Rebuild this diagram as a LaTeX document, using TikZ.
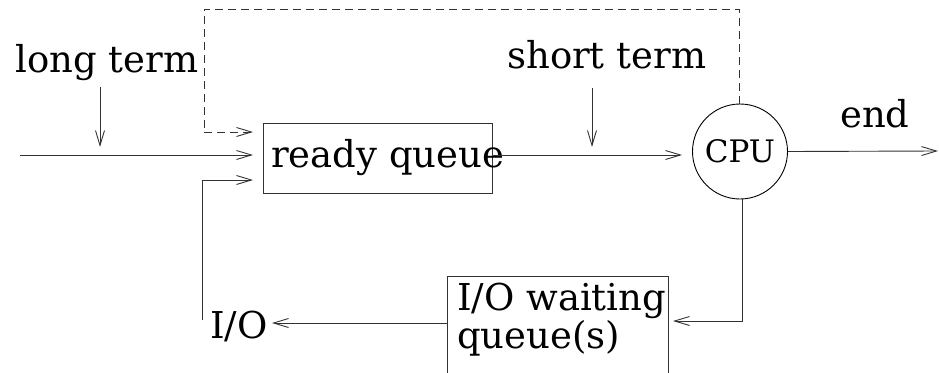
\documentclass[tikz,border=0pt]{standalone}
\usepackage{fontspec}
\setmainfont{DejaVu Serif}
\usetikzlibrary{arrows.meta}
\tikzset{
  conn/.style={line width=0.9pt, draw=black!80},
  arr/.style={conn, -{Straight Barb[length=15pt,width=9pt,line width=0.9pt]}},
  dashline/.style={conn, dash pattern=on 8pt off 5pt},
  lbl/.style={inner sep=0pt, anchor=base west, font=\fontsize{37}{31}\selectfont},
  boxn/.style={draw=black!80, line width=0.9pt, inner sep=0pt},
  cpun/.style={circle, draw=black, line width=0.9pt, minimum size=95pt, inner sep=0pt, font=\fontsize{31}{31}\selectfont}
}
\begin{document}
\begin{tikzpicture}[x=1pt,y=-1pt]
\clip (0,0) rectangle (939,372);
% boxes
\node[boxn, minimum width=229pt, minimum height=70pt] (rq) at (377.5,158) {};
\node[lbl] (rqt) at (271,167) {ready queue};
\node[cpun] (cpu) at (740,151.5) {CPU};
\node[boxn, minimum width=221pt, minimum height=130pt] (io) at (557.5,341) {};
\node[lbl, align=left] (iot) at (457,348) {I/O waiting\\queue(s)};
% labels
\node[lbl] (lt) at (15,72) {long term};
\node[lbl] (st) at (507,68) {short term};
\node[lbl] (endl) at (840,127) {end};
\node[lbl] (iol) at (210,338) {I/O};
% coordinates
\coordinate (in) at (20,155);
\coordinate (rqin) at (253,155);
\coordinate (rqdash) at (253,132);
\coordinate (rqio) at (253,180);
\coordinate (ltA) at (100,87);
\coordinate (ltB) at (100,147);
\coordinate (stA) at (592,88);
\coordinate (stB) at (592,147);
\coordinate (cpuin) at (682,155);
\coordinate (endp) at (938,151);
\coordinate (d1) at (739,9);
\coordinate (d2) at (204,9);
\coordinate (d3) at (204,132);
\coordinate (c1) at (742,321);
\coordinate (iotip) at (673,321);
\coordinate (iooutA) at (447,323);
\coordinate (iooutB) at (272,323);
\coordinate (back1) at (202,320);
\coordinate (back2) at (202,180);
% connectors
\draw[arr] (in) -- (rqin);
\draw[arr] (ltA) -- (ltB);
\draw[arr] (rq.east |- cpuin) -- (cpuin);
\draw[arr] (stA) -- (stB);
\draw[arr] (cpu.east) -- (endp);
\draw[dashline] (cpu.north -| d1) -- (d1) -- (d2) -- (d3);
\draw[arr, dash pattern=on 8pt off 5pt] (d3) -- (rqdash);
\draw[arr] (cpu.south -| c1) -- (c1) -- (iotip);
\draw[arr] (iooutA) -- (iooutB);
\draw[conn] (back1) -- (back2);
\draw[arr] (back2) -- (rqio);
\end{tikzpicture}
\end{document}
